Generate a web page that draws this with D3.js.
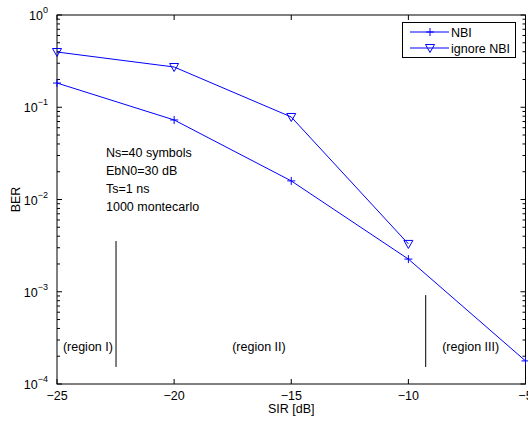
<!DOCTYPE html>
<html><head><meta charset="utf-8">
<script src="https://cdn.jsdelivr.net/npm/d3@7"></script>
<style>body{margin:0;background:#fff}svg{display:block;font-family:"Liberation Sans",Arial,sans-serif}</style>
</head><body><svg id="c" width="528" height="422"></svg>
<script>
const sir = [-25, -20, -15, -10, -5];
const berNBI = [0.183, 0.0728, 0.0159, 0.00226, 0.000178];
const sirIgnore = [-25, -20, -15, -10];
const berIgnore = [0.397, 0.273, 0.0784, 0.0033];
const xTicks = [-25, -20, -15, -10, -5];
const yTickExps = [0, -1, -2, -3, -4];
const annot = ["Ns=40 symbols", "EbN0=30 dB", "Ts=1 ns", "1000 montecarlo"];
const regionLines = [{x: -22.48, y0: 0.00355, y1: 0.000153}, {x: -9.26, y0: 0.00092, y1: 0.000153}];
const regionLabels = [{x: -23.68, t: "(region I)"}, {x: -16.38, t: "(region II)"}, {x: -7.34, t: "(region III)"}];
const regionLabelY = 0.00026;

const svg = d3.select("#c");
const L = 57, R = 525.5, T = 15, B = 384;
const FS = 12.5;
const x = d3.scaleLinear().domain([-25, -5]).range([L, R]);
const y = d3.scaleLog().domain([1e-4, 1]).range([B, T]);
const blue = "#0000ff";

// frame
svg.append("rect").attr("x", L).attr("y", T).attr("width", R - L).attr("height", B - T)
  .attr("fill", "none").attr("stroke", "#000").attr("stroke-width", 1);

// x ticks (inside, top and bottom)
const g = svg.append("g").attr("stroke", "#000").attr("stroke-width", 1);
xTicks.forEach(v => {
  g.append("line").attr("x1", x(v)).attr("x2", x(v)).attr("y1", B).attr("y2", B - 5);
  g.append("line").attr("x1", x(v)).attr("x2", x(v)).attr("y1", T).attr("y2", T + 5);
});
// y ticks major + minor
for (let e = -4; e <= 0; e++) {
  const v = Math.pow(10, e);
  g.append("line").attr("x1", L).attr("x2", L + 5).attr("y1", y(v)).attr("y2", y(v));
  g.append("line").attr("x1", R).attr("x2", R - 5).attr("y1", y(v)).attr("y2", y(v));
  if (e < 0) for (let m = 2; m <= 9; m++) {
    const mv = m * v;
    g.append("line").attr("x1", L).attr("x2", L + 3).attr("y1", y(mv)).attr("y2", y(mv));
    g.append("line").attr("x1", R).attr("x2", R - 3).attr("y1", y(mv)).attr("y2", y(mv));
  }
}

// tick labels
xTicks.forEach(v => {
  svg.append("text").attr("x", x(v)).attr("y", 400).attr("text-anchor", "middle")
    .attr("font-size", FS).text("\u2212" + Math.abs(v));
});
yTickExps.forEach(e => {
  const t = svg.append("text").attr("x", 48).attr("y", y(Math.pow(10, e)) + 5).attr("text-anchor", "end").attr("font-size", FS);
  t.append("tspan").text("10");
  t.append("tspan").attr("dy", -7).attr("font-size", 9).text(e === 0 ? "0" : "\u2212" + Math.abs(e));
});

// axis labels
svg.append("text").attr("x", (L + R) / 2).attr("y", 413).attr("text-anchor", "middle").attr("font-size", FS).text("SIR [dB]");
svg.append("text").attr("transform", `translate(20,${(T + B) / 2}) rotate(-90)`).attr("text-anchor", "middle").attr("font-size", FS).text("BER");

// lines
const line = d3.line().x(d => x(d[0])).y(d => y(d[1]));
const d1 = sir.map((s, i) => [s, berNBI[i]]);
const d2 = sirIgnore.map((s, i) => [s, berIgnore[i]]);
svg.append("path").attr("d", line(d1)).attr("fill", "none").attr("stroke", blue).attr("stroke-width", 1);
svg.append("path").attr("d", line(d2)).attr("fill", "none").attr("stroke", blue).attr("stroke-width", 1);

function plus(sel, cx, cy) {
  sel.append("path").attr("d", `M${cx - 4},${cy}H${cx + 4}M${cx},${cy - 4}V${cy + 4}`).attr("stroke", blue).attr("stroke-width", 1);
}
function tri(sel, cx, cy) {
  sel.append("path").attr("d", `M${cx - 4.5},${cy - 3.5}L${cx + 4.5},${cy - 3.5}L${cx},${cy + 4.5}Z`).attr("stroke", blue).attr("fill", "none").attr("stroke-width", 1);
}
d1.forEach(d => plus(svg, x(d[0]), y(d[1])));
d2.forEach(d => tri(svg, x(d[0]), y(d[1])));

// annotation
annot.forEach((t, i) => {
  svg.append("text").attr("x", 106).attr("y", 156.5 + i * 18.3).attr("font-size", FS).text(t);
});

// region lines & labels
regionLines.forEach(r => {
  svg.append("line").attr("x1", x(r.x)).attr("x2", x(r.x)).attr("y1", y(r.y0)).attr("y2", y(r.y1)).attr("stroke", "#000").attr("stroke-width", 1);
});
regionLabels.forEach(r => {
  svg.append("text").attr("x", x(r.x)).attr("y", y(regionLabelY) + 5).attr("text-anchor", "middle").attr("font-size", FS).text(r.t);
});

// legend
const lg = svg.append("g");
lg.append("rect").attr("x", 402.5).attr("y", 22.5).attr("width", 113).attr("height", 35).attr("fill", "#fff").attr("stroke", "#000");
lg.append("line").attr("x1", 410).attr("x2", 449).attr("y1", 32).attr("y2", 32).attr("stroke", blue);
plus(lg, 430, 32);
lg.append("text").attr("x", 451).attr("y", 36.5).attr("font-size", FS).text("NBI");
lg.append("line").attr("x1", 410).attr("x2", 449).attr("y1", 48).attr("y2", 48).attr("stroke", blue);
tri(lg, 430, 48);
lg.append("text").attr("x", 451).attr("y", 52.5).attr("font-size", FS).text("ignore NBI");
</script></body></html>
